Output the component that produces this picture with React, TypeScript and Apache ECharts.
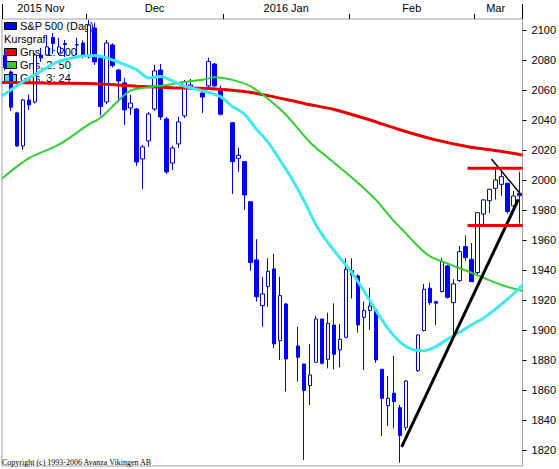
import React, { useEffect, useRef } from "react";
import * as echarts from "echarts";

// One slot per weekday (holidays kept as empty slots)
const dates = [
  "2015-11-11","2015-11-12","2015-11-13","2015-11-16","2015-11-17","2015-11-18","2015-11-19","2015-11-20",
  "2015-11-23","2015-11-24","2015-11-25","2015-11-26","2015-11-27","2015-11-30",
  "2015-12-01","2015-12-02","2015-12-03","2015-12-04","2015-12-07","2015-12-08","2015-12-09","2015-12-10",
  "2015-12-11","2015-12-14","2015-12-15","2015-12-16","2015-12-17","2015-12-18","2015-12-21","2015-12-22",
  "2015-12-23","2015-12-24","2015-12-25","2015-12-28","2015-12-29","2015-12-30","2015-12-31",
  "2016-01-01","2016-01-04","2016-01-05","2016-01-06","2016-01-07","2016-01-08","2016-01-11","2016-01-12",
  "2016-01-13","2016-01-14","2016-01-15","2016-01-18","2016-01-19","2016-01-20","2016-01-21","2016-01-22",
  "2016-01-25","2016-01-26","2016-01-27","2016-01-28","2016-01-29",
  "2016-02-01","2016-02-02","2016-02-03","2016-02-04","2016-02-05","2016-02-08","2016-02-09","2016-02-10",
  "2016-02-11","2016-02-12","2016-02-15","2016-02-16","2016-02-17","2016-02-18","2016-02-19","2016-02-22",
  "2016-02-23","2016-02-24","2016-02-25","2016-02-26","2016-02-29",
  "2016-03-01","2016-03-02","2016-03-03","2016-03-04","2016-03-07","2016-03-08","2016-03-09","2016-03-10",
];

// [open, high, low, close]; null = market closed
const ohlc: (number[] | null)[] = [
  [2083, 2086, 2073, 2075],
  [2072, 2073, 2046, 2048.5],
  [2044.7, 2045.5, 2022, 2022.7],
  [2022.7, 2054, 2020, 2053.3],
  [2053.3, 2057, 2046.7, 2050],
  [2052, 2084.5, 2051, 2083.3],
  [2083.3, 2088, 2078.7, 2081.3],
  [2083.3, 2096.7, 2083, 2088.7],
  [2095, 2098, 2084, 2091],
  [2084.7, 2094.7, 2083.3, 2088.7],
  [2091, 2093.3, 2082, 2090.3],
  null,
  [2090, 2094.7, 2083.3, 2090.3],
  [2091.3, 2093, 2081, 2083.3],
  [2082, 2106.7, 2081, 2103.3],
  [2101.3, 2104.7, 2076.7, 2078.7],
  [2081, 2083, 2043, 2049],
  [2052, 2093.3, 2050.5, 2091.3],
  [2090, 2091, 2075, 2076.2],
  [2073.3, 2074, 2053.3, 2066],
  [2064.7, 2068, 2036.7, 2046.7],
  [2048, 2056.7, 2043.3, 2051.3],
  [2047.3, 2048, 2009.3, 2012],
  [2014, 2023.3, 1994, 2022],
  [2026, 2045.3, 2022, 2044],
  [2047.3, 2076.7, 2046, 2072.7],
  [2073.3, 2077.3, 2040, 2042],
  [2040.7, 2042, 2004, 2005.3],
  [2011.3, 2022.7, 2006.7, 2021.3],
  [2024, 2042, 2021.3, 2038.7],
  [2042.7, 2066.7, 2041.3, 2065.3],
  [2062, 2067.3, 2060, 2063.3],
  null,
  [2058, 2061.3, 2044.7, 2055.3],
  [2062.7, 2081.5, 2062, 2078.9],
  [2077.3, 2078, 2062, 2062.7],
  [2059.3, 2062.9, 2043, 2043.8],
  null,
  [2038.2, 2038.5, 1990.7, 2012.2],
  [2014.4, 2021.5, 2005.5, 2016.4],
  [2012.2, 2012.5, 1980, 1990],
  [1985.5, 1985.5, 1939.5, 1944.9],
  [1946.7, 1960.5, 1918.9, 1922.2],
  [1916.2, 1935.5, 1902.2, 1924],
  [1928.9, 1947.8, 1915.5, 1939.1],
  [1940.7, 1950.7, 1887.8, 1890.7],
  [1892.9, 1935.5, 1880, 1922.9],
  [1917.3, 1918, 1858.9, 1880.7],
  null,
  [1889.3, 1902.2, 1865.5, 1881.8],
  [1877.3, 1877.5, 1813.3, 1859.6],
  [1862.9, 1890.7, 1850, 1870],
  [1878.5, 1909.3, 1878, 1907.3],
  [1907.3, 1907.5, 1877, 1877.8],
  [1880.4, 1911.5, 1874.4, 1904.4],
  [1903.3, 1917.8, 1873.8, 1883.8],
  [1886.7, 1904, 1875.1, 1893.8],
  [1895.1, 1947.8, 1894.5, 1940.4],
  [1936.5, 1947.8, 1921, 1939.5],
  [1936, 1937, 1898.2, 1903.3],
  [1908.4, 1918.9, 1873.3, 1912.9],
  [1912.9, 1928.2, 1900, 1916],
  [1913.3, 1914, 1878, 1880],
  [1873.8, 1874, 1829.3, 1854.4],
  [1849.5, 1869.3, 1836, 1854.4],
  [1857.8, 1882.7, 1834.4, 1852.2],
  [1848.2, 1850, 1811.5, 1829.6],
  [1835.1, 1866.5, 1833, 1866],
  null,
  [1872.9, 1897, 1872, 1896.7],
  [1899.6, 1930.7, 1899, 1927.1],
  [1927.8, 1931.5, 1916.7, 1918.2],
  [1918.9, 1919.5, 1903.3, 1917.8],
  [1925.6, 1947.8, 1925, 1945.6],
  [1942.7, 1943.5, 1921, 1921.8],
  [1918.2, 1933.8, 1895.5, 1930.7],
  [1932.9, 1956, 1932, 1952.2],
  [1955.6, 1963, 1946, 1948.2],
  [1947.1, 1958, 1932, 1932.2],
  [1938.2, 1978.4, 1937, 1978.2],
  [1977.3, 1987, 1969, 1986.7],
  [1986.2, 1994, 1978, 1993.8],
  [1994.4, 2008.4, 1987, 2000],
  [1997.1, 2006, 1989.5, 2002.2],
  [1997.8, 1998, 1977.5, 1978.9],
  [1982.7, 1992.7, 1980, 1989.3],
  [1991, 2005.5, 1971, 1989.5],
];

// Moving averages: [slot, value]
const ma200 = [
  [-0.5, 2065], [8, 2064.5], [16, 2064], [22, 2062.5], [28, 2061.5], [34, 2061], [40, 2059],
  [44, 2056.2], [50, 2051], [55, 2047], [61, 2040], [66, 2033.5], [72, 2026.7], [77, 2022.5],
  [83, 2019], [86.5, 2016.7],
];
const ma50 = [
  [-0.5, 2001], [4, 2014.5], [9, 2023.5], [14, 2037], [16, 2041.5], [19, 2053], [21, 2059.5],
  [24, 2061.8], [27, 2063.3], [30, 2065.3], [33, 2066.8], [35, 2068.5], [38, 2066.7], [41, 2062.5],
  [44, 2054], [47, 2043.3], [51, 2025], [55, 2011.5], [59, 1998], [62, 1986.7], [65, 1972.5],
  [67, 1964.4], [69, 1956], [71, 1949.2], [74, 1944.2], [77, 1939.6], [80, 1934.8], [83, 1930],
  [86.5, 1926],
];
const ma24 = [
  [-0.5, 2056], [3, 2065.5], [6, 2072.5], [9, 2079], [12, 2082], [14, 2083], [16, 2082.5],
  [19, 2078.5], [22, 2073.5], [24, 2068], [26, 2069], [28, 2066], [30, 2062.5], [33, 2059.5],
  [36, 2055.5], [38, 2049], [40, 2044], [42, 2034], [44, 2025], [46, 2013], [48, 2000.5],
  [50, 1986], [52, 1970], [54, 1958], [56, 1948], [58, 1938], [60, 1926], [62, 1913], [64, 1901],
  [66, 1892], [68, 1887], [70, 1886.2], [72, 1888.9], [74, 1894], [76, 1898.5], [78, 1903.5],
  [80, 1908], [82, 1914], [84, 1920.5], [86.5, 1930],
];

// Drawn lines: [slot, value]
const trendUp = [[66.3, 1822], [85.8, 1987]];
const trendDown = [[81.3, 2014], [86.3, 1990]];
const resistance = [[77.3, 2007.8], [86.5, 2007.8]];
const support = [[77.3, 1969.7], [86.5, 1969.7]];

const yTicks = [1820, 1840, 1860, 1880, 1900, 1920, 1940, 1960, 1980, 2000, 2020, 2040, 2060, 2080, 2100];
const monthLabelDates = ["2015-11-19", "2015-12-16", "2016-01-15", "2016-02-15", "2016-03-04"];
const monthLabels = ["2015 Nov", "Dec", "2016 Jan", "Feb", "Mar"];
const yearStartDate = "2016-01-01";

const legendNames = ["S&P 500 (Dag)", "Kursgraf", "Gns. 1: 200", "Gns. 2: 50", "Gns. 3: 24"];
const copyright = "Copyright (c) 1993-2006 Avanza Vikingen AB";

const FONT = "'Liberation Sans', Arial, sans-serif";

export default function App() {
  const ref = useRef<HTMLDivElement>(null);
  useEffect(() => {
    const chart = echarts.init(ref.current!, null, { renderer: "svg" });
    const candleData = ohlc.map((d) => (d ? [d[0], d[3], d[2], d[1]] : ["-", "-", "-", "-"]));
    const isMonthStart = (i: number) => i > 0 && dates[i].slice(5, 7) !== dates[i - 1].slice(5, 7);

    const lineSeries = (data: number[][], color: string, width: number, smooth: boolean | number) => ({
      type: "line",
      xAxisIndex: 1,
      yAxisIndex: 0,
      data,
      smooth,
      symbol: "none",
      silent: true,
      lineStyle: { color, width },
      z: 3,
    });

    const legendRow = (y: number, fill: string, text: string, icon: boolean) => {
      const els: any[] = [];
      if (icon) {
        els.push({
          type: "rect",
          shape: { x: 4.5, y: y - 3.5, width: 12, height: 7 },
          style: { fill, stroke: "#000", lineWidth: 1 },
        });
      }
      els.push({
        type: "text",
        x: icon ? 20 : 4,
        y,
        style: { text, fill: "#000", font: `11px ${FONT}`, verticalAlign: "middle" },
      });
      return els;
    };

    const option: any = {
      animation: false,
      grid: {
        left: 2,
        right: 36,
        top: 19,
        bottom: 3,
        show: true,
        borderColor: "#a0a0a0",
        borderWidth: 1,
        backgroundColor: "transparent",
      },
      xAxis: [
        {
          type: "category",
          data: dates,
          position: "top",
          boundaryGap: true,
          axisLine: { show: false, onZero: false },
          axisTick: {
            show: true,
            length: 5,
            interval: (i: number) => isMonthStart(i),
            lineStyle: { color: "#000" },
          },
          axisLabel: {
            interval: (i: number, v: string) => monthLabelDates.includes(v),
            formatter: (v: string) => {
              const k = monthLabelDates.indexOf(v);
              return k >= 0 ? monthLabels[k] : "";
            },
            color: "#000",
            fontSize: 11,
            fontFamily: FONT,
            margin: 6,
          },
          splitLine: { show: false },
        },
        {
          type: "value",
          min: -0.5,
          max: 86.5,
          show: false,
        },
        {
          type: "category",
          data: dates,
          position: "top",
          boundaryGap: true,
          axisLine: { show: false, onZero: false },
          axisTick: {
            show: true,
            length: 15,
            interval: (i: number, v: string) => v === yearStartDate,
            lineStyle: { color: "#000" },
          },
          axisLabel: { show: false },
          splitLine: { show: false },
        },
      ],
      yAxis: {
        type: "value",
        position: "right",
        min: 1809.3,
        max: 2107.3,
        axisLine: { show: false, onZero: false },
        axisTick: { show: true, length: 4, customValues: yTicks, lineStyle: { color: "#000" } },
        axisLabel: {
          customValues: yTicks,
          formatter: (v: number) => String(Math.round(v)),
          color: "#000",
          fontSize: 11,
          fontFamily: FONT,
          margin: 9,
        },
        splitLine: { show: false },
      },
      graphic: [
        ...legendRow(26, "#0000ff", legendNames[0], true),
        ...legendRow(39, "", legendNames[1], false),
        ...legendRow(52, "#e60000", legendNames[2], true),
        ...legendRow(65, "#33cc33", legendNames[3], true),
        ...legendRow(78, "#40e8f4", legendNames[4], true),
        {
          type: "text",
          x: 2,
          y: 462,
          style: {
            text: copyright,
            fill: "#000",
            font: "8px 'Liberation Serif', 'Times New Roman', serif",
            verticalAlign: "middle",
          },
        },
      ],
      series: [
        {
          type: "candlestick",
          xAxisIndex: 0,
          yAxisIndex: 0,
          data: candleData,
          barWidth: 4,
          silent: true,
          itemStyle: {
            color: "#ffffff",
            color0: "#0000ff",
            borderColor: "#0000b4",
            borderColor0: "#0000e6",
            borderWidth: 1,
          },
          z: 2,
        },
        lineSeries(ma200, "#e60000", 3, 0.3),
        lineSeries(ma50, "#33cc33", 2, 0.3),
        lineSeries(ma24, "#40e8f4", 3, 0.3),
        { ...lineSeries(trendUp, "#000000", 3, false), z: 4 },
        { ...lineSeries(trendDown, "#000000", 1.5, false), z: 4 },
        { ...lineSeries(resistance, "#e60000", 3, false), z: 4 },
        { ...lineSeries(support, "#e60000", 3, false), z: 4 },
      ],
    };
    chart.setOption(option);
    return () => chart.dispose();
  }, []);
  return (
    <div
      ref={ref}
      style={{ position: "fixed", left: 0, top: 0, width: 559, height: 469, background: "#fff" }}
    />
  );
}
